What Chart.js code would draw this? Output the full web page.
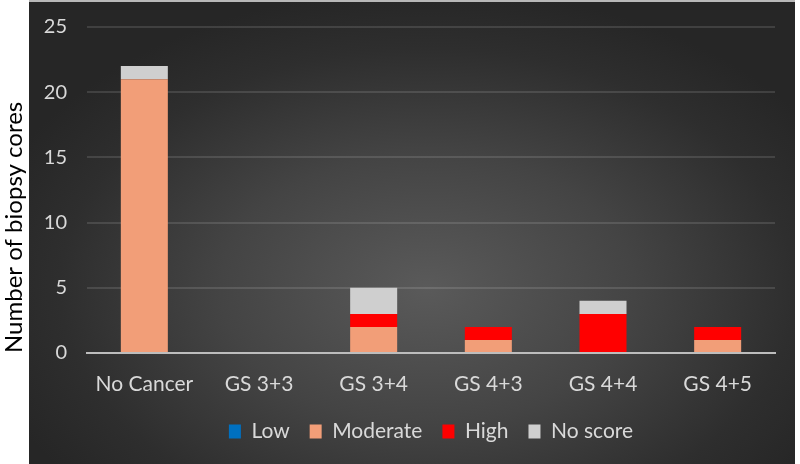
<!DOCTYPE html>
<html>
<head>
<meta charset="utf-8">
<script src="https://cdn.jsdelivr.net/npm/chart.js@4.4.1/dist/chart.umd.min.js"></script>
<style>
	html, body { margin: 0; padding: 0; background: #fff; }
	#wrap { position: relative; width: 800px; height: 464px; }
	#panel {
		position: absolute; left: 29px; top: 0; width: 766px; height: 464px;
		border-top: 2px solid #b8b8b8; box-sizing: border-box;
		background: radial-gradient(ellipse 60% 65% at 52% 62%, #5a5a5a 0%, #444 45%, #2e2e2e 80%, #262626 100%);
	}
	#graph { position: absolute; left: 0; top: 0; }
</style>
</head>
<body>
<div id="wrap">
	<div id="panel"></div>
	<canvas id="graph" width="800" height="464"></canvas>
</div>
<script>
// カテゴリと各スコアの本数
var categories = ['No Cancer', 'GS 3+3', 'GS 3+4', 'GS 4+3', 'GS 4+4', 'GS 4+5'];
var lowCores = [0, 0, 0, 0, 0, 0];
var moderateCores = [21, 0, 2, 1, 0, 1];
var highCores = [0, 0, 1, 1, 3, 1];
var noScoreCores = [1, 0, 2, 0, 1, 0];
var yTicks = [0, 5, 10, 15, 20, 25];

var font = 'Lato';
var tickColor = '#d9d9d9';

var ctx = document.getElementById('graph');
var gData = {
	labels: categories,
	datasets: [
		{ label: 'Low', data: lowCores, backgroundColor: '#0070c0' },
		{ label: 'Moderate', data: moderateCores, backgroundColor: '#f29e78' },
		{ label: 'High', data: highCores, backgroundColor: '#ff0000' },
		{ label: 'No score', data: noScoreCores, backgroundColor: '#cfcfcf' }
	]
};

var chart = new Chart(ctx, {
	type: 'bar',
	data: gData,
	options: {
		responsive: false,
		animation: false,
		layout: { padding: { top: 27, right: 25, bottom: 12, left: 0 } },
		datasets: { bar: { categoryPercentage: 1, barPercentage: 0.41 } },
		scales: {
			x: {
				stacked: true,
				afterFit: function(scale) { scale.height = 48; },
				grid: { display: false, drawTicks: false },
				border: { display: true, color: '#bdbdbd', width: 2 },
				ticks: { color: tickColor, padding: 19, font: { family: font, size: 21 } }
			},
			y: {
				stacked: true,
				min: 0,
				max: 25,
				afterFit: function(scale) {
					scale.width = 87;
					scale.paddingTop = 0;
					scale.paddingBottom = 0;
				},
				afterBuildTicks: function(scale) {
					scale.ticks = yTicks.map(function(v) { return { value: v }; });
				},
				grid: { color: 'rgba(255,255,255,0.12)', lineWidth: 2, drawTicks: false },
				border: { display: false },
				ticks: { color: tickColor, padding: 20, font: { family: font, size: 20 } },
				title: {
					display: true,
					text: 'Number of biopsy cores',
					align: 'start',
					color: '#000',
					padding: 0,
					font: { family: font, size: 24 }
				}
			}
		},
		plugins: {
			tooltip: { enabled: false },
			legend: {
				position: 'bottom',
				fullSize: false,
				labels: {
					color: tickColor,
					boxWidth: 12,
					boxHeight: 14,
					padding: 20,
					font: { family: font, size: 21 }
				}
			}
		}
	}
});
</script>
</body>
</html>
